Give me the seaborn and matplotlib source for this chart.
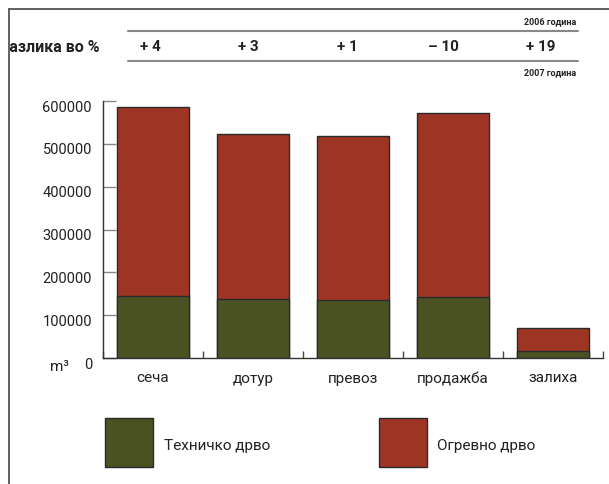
import matplotlib
matplotlib.use('Agg')
import matplotlib.pyplot as plt
import seaborn as sns
import pandas as pd
from matplotlib.lines import Line2D
from matplotlib.patches import Rectangle
from matplotlib.transforms import ScaledTranslation

sns.set_style('white')
plt.rcParams['font.family'] = ['Roboto', 'DejaVu Sans']

# податоци
kategorii = ['сеча', 'дотур', 'превоз', 'продажба', 'залиха']
tehnicko = [145000, 138000, 136000, 143000, 17000]
vkupno = [585000, 522000, 518000, 571000, 69000]
razlika = ['+ 4', '+ 3', '+ 1', '– 10', '+ 19']

zelena = '#4a5223'
crvena = '#9e3424'

df = pd.DataFrame({'kat': kategorii, 'teh': tehnicko, 'vk': vkupno})

W, H = 609, 485
fig = plt.figure(figsize=(W / 100, H / 100), dpi=100)

def fx(px):
    return px / W

def fy(py):
    return 1 - py / H

ax = fig.add_axes([fx(103), fy(359), fx(603) - fx(103), fy(102) - fy(359)])

# вкупно (огревно на врв), потоа техничко
sns.barplot(data=df, x='kat', y='vk', color=crvena, width=0.72,
            edgecolor='#2a2a2a', linewidth=1, saturation=1, ax=ax)
sns.barplot(data=df, x='kat', y='teh', color=zelena, width=0.72,
            edgecolor='#2a2a2a', linewidth=1, saturation=1, ax=ax)

ax.set_ylim(0, 600000)
ax.set_xlim(-0.5, 4.5)
ax.set_xlabel('')
ax.set_ylabel('')
ax.set_yticks(range(0, 600001, 100000))
ax.set_yticklabels([str(v) for v in range(0, 600001, 100000)], fontsize=10.5, color='#222222')
ax.set_xticks(range(len(kategorii)))
ax.set_xticklabels(kategorii, fontsize=11, color='#222222')
ax.set_xticks([i - 0.5 for i in range(len(kategorii) + 1)], minor=True)
ax.tick_params(axis='x', which='major', bottom=True, length=0, pad=9)
ax.tick_params(axis='x', which='minor', bottom=True, direction='in', length=5, width=1, color='#444444')
ax.tick_params(axis='y', left=True, direction='in', length=9, width=1, color='#888888', pad=8)
for lab in ax.get_yticklabels():
    lab.set_transform(lab.get_transform() + ScaledTranslation(0, -3 / 72, fig.dpi_scale_trans))
for s in ['top', 'right']:
    ax.spines[s].set_visible(False)
for s in ['left', 'bottom']:
    ax.spines[s].set_color('#333333')
    ax.spines[s].set_linewidth(1)

fig.text(fx(50), fy(367), 'm³', fontsize=11, color='#222222', va='center')

# рамка
fig.add_artist(Line2D([fx(9), fx(9)], [fy(10), 0], color='#555555', lw=1.3))
fig.add_artist(Line2D([fx(9), 1], [fy(10), fy(10)], color='#555555', lw=1.3))

# табела со разлика
fig.add_artist(Line2D([fx(128), fx(578)], [fy(32), fy(32)], color='#888888', lw=1.5))
fig.add_artist(Line2D([fx(128), fx(578)], [fy(62), fy(62)], color='#888888', lw=1.5))
fig.text(fx(576), fy(22), '2006 година', fontsize=6.5, fontweight='bold', ha='right', va='center', color='#222222')
fig.text(fx(576), fy(73), '2007 година', fontsize=6.5, fontweight='bold', ha='right', va='center', color='#222222')

hdr = fig.add_axes([fx(9.5), 0, 1 - fx(9.5), 1])
hdr.set_axis_off()
hdr.set_xlim(0, 1)
hdr.set_ylim(0, 1)
hdr.text(-fx(1), fy(47), 'Разлика во %', fontsize=11.5, fontweight='bold', va='center',
         color='#222222', clip_on=True, transform=fig.transFigure)

razlika_x = [150, 248, 347, 443, 541]
for xp, t in zip(razlika_x, razlika):
    fig.text(fx(xp), fy(47), t, fontsize=11, fontweight='bold', ha='center', va='center', color='#222222')

# легенда
fig.add_artist(Rectangle((fx(105), fy(468)), fx(48), fy(419) - fy(468), transform=fig.transFigure,
                         facecolor=zelena, edgecolor='#2a2a2a', lw=1))
fig.add_artist(Rectangle((fx(379), fy(468)), fx(48), fy(419) - fy(468), transform=fig.transFigure,
                         facecolor=crvena, edgecolor='#2a2a2a', lw=1))
fig.text(fx(164), fy(446), 'Техничко дрво', fontsize=11, va='center', color='#222222')
fig.text(fx(437), fy(446), 'Огревно дрво', fontsize=11, va='center', color='#222222')

fig.savefig('out.png', dpi=100)
